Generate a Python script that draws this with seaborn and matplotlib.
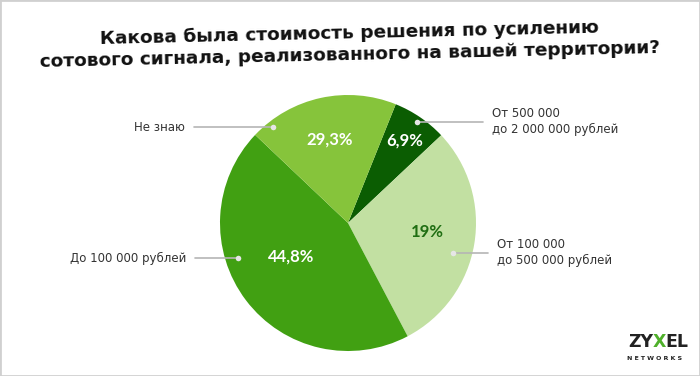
import matplotlib
matplotlib.use("Agg")
import numpy as np
import matplotlib.pyplot as plt
import seaborn as sns
from matplotlib.patches import Rectangle

# Categories, clockwise from the dark slice at the top
categories = ["От 500 000\nдо 2 000 000 рублей",
              "От 100 000\nдо 500 000 рублей",
              "До 100 000 рублей",
              "Не знаю"]
# Slice sizes as drawn in the picture (%)
shares = [6.9, 29.3, 44.8, 19.0]
# Captions printed on the slices (the source swaps 19% and 29,3%)
pct_labels = ["6,9%", "19%", "44,8%", "29,3%"]
title = ("Какова была стоимость решения по усилению\n"
         "сотового сигнала, реализованного на вашей территории?")

colors = ["#0b5d02", "#c2e0a2", "#41a012", "#86c43b"]
pct_colors = ["white", "#1f6e12", "white", "white"]

# label / leader-line placement (style only)
pct_r = [0.78, 0.62, 0.52, 0.67]
pct_frac = [0.5, 0.53, 0.46, 0.5]
dot_r = [0.96, 0.85, 0.90, 0.95]
dot_frac = [0.5, 0.44, 0.38, 0.876]
line_px = [66, 35, 43, 79]
side = [1, 1, -1, -1]

W, H = 700, 376
R_PX = 128
CX, CY = 348, 223

sns.set_theme(style="white")
plt.rcParams["font.family"] = ["DejaVu Sans"]

fig = plt.figure(figsize=(W / 100, H / 100), dpi=100)
fig.set_facecolor("white")

# Title, slightly tilted like the source
fig.text(0.50, 1 - 44 / H, title, ha="center", va="center", rotation=1.3,
         fontsize=13.3, weight="bold", color="#111111", linespacing=1.2)

ax = fig.add_axes([(CX - R_PX) / W, (H - CY - R_PX) / H, 2 * R_PX / W, 2 * R_PX / H])
wedges, _ = ax.pie(shares, colors=colors, startangle=68.1, counterclock=False,
                   radius=1, wedgeprops=dict(linewidth=0))
ax.set_xlim(-1, 1)
ax.set_ylim(-1, 1)
ax.axis("off")

px = 1 / R_PX
for i, w in enumerate(wedges):
    # percentage inside the slice
    a = np.deg2rad(w.theta1 + pct_frac[i] * (w.theta2 - w.theta1))
    ax.text(pct_r[i] * np.cos(a), pct_r[i] * np.sin(a), pct_labels[i],
            ha="center", va="center", fontsize=12, color=pct_colors[i],
            family="Lato", weight="bold")
    # dot + leader line + category name
    a = np.deg2rad(w.theta1 + dot_frac[i] * (w.theta2 - w.theta1))
    x0, y0 = dot_r[i] * np.cos(a), dot_r[i] * np.sin(a)
    x1 = x0 + side[i] * line_px[i] * px
    ax.plot([x0, x1], [y0, y0], color="#b5b5b5", lw=1.2, clip_on=False, zorder=3)
    ax.plot([x0], [y0], "o", ms=4, color="#e6e6e6", mec="none", clip_on=False, zorder=4)
    ax.text(x1 + side[i] * 9 * px, y0, categories[i],
            ha="left" if side[i] > 0 else "right", va="center",
            fontsize=8.5, color="#333333", linespacing=1.25, clip_on=False)

# ZYXEL logo
fig.text(653 / W, 1 - 342 / H, "ZY", ha="right", va="center", fontsize=12.5,
         weight="bold", color="#222222")
fig.text(659 / W, 1 - 342 / H, "X", ha="center", va="center", fontsize=12.5,
         weight="bold", color="#4fb02a")
fig.text(665 / W, 1 - 342 / H, "EL", ha="left", va="center", fontsize=12.5,
         weight="bold", color="#222222")
fig.text(655 / W, 1 - 358 / H, "N E T W O R K S", ha="center", va="center",
         fontsize=4.5, weight="bold", color="#222222")

# thin grey frame around the picture
fig.patches.append(Rectangle((0, 0), 1, 1, transform=fig.transFigure, fill=False,
                             edgecolor="#d0d0d0", linewidth=2))

fig.savefig("out.png", dpi=100, facecolor="white")
